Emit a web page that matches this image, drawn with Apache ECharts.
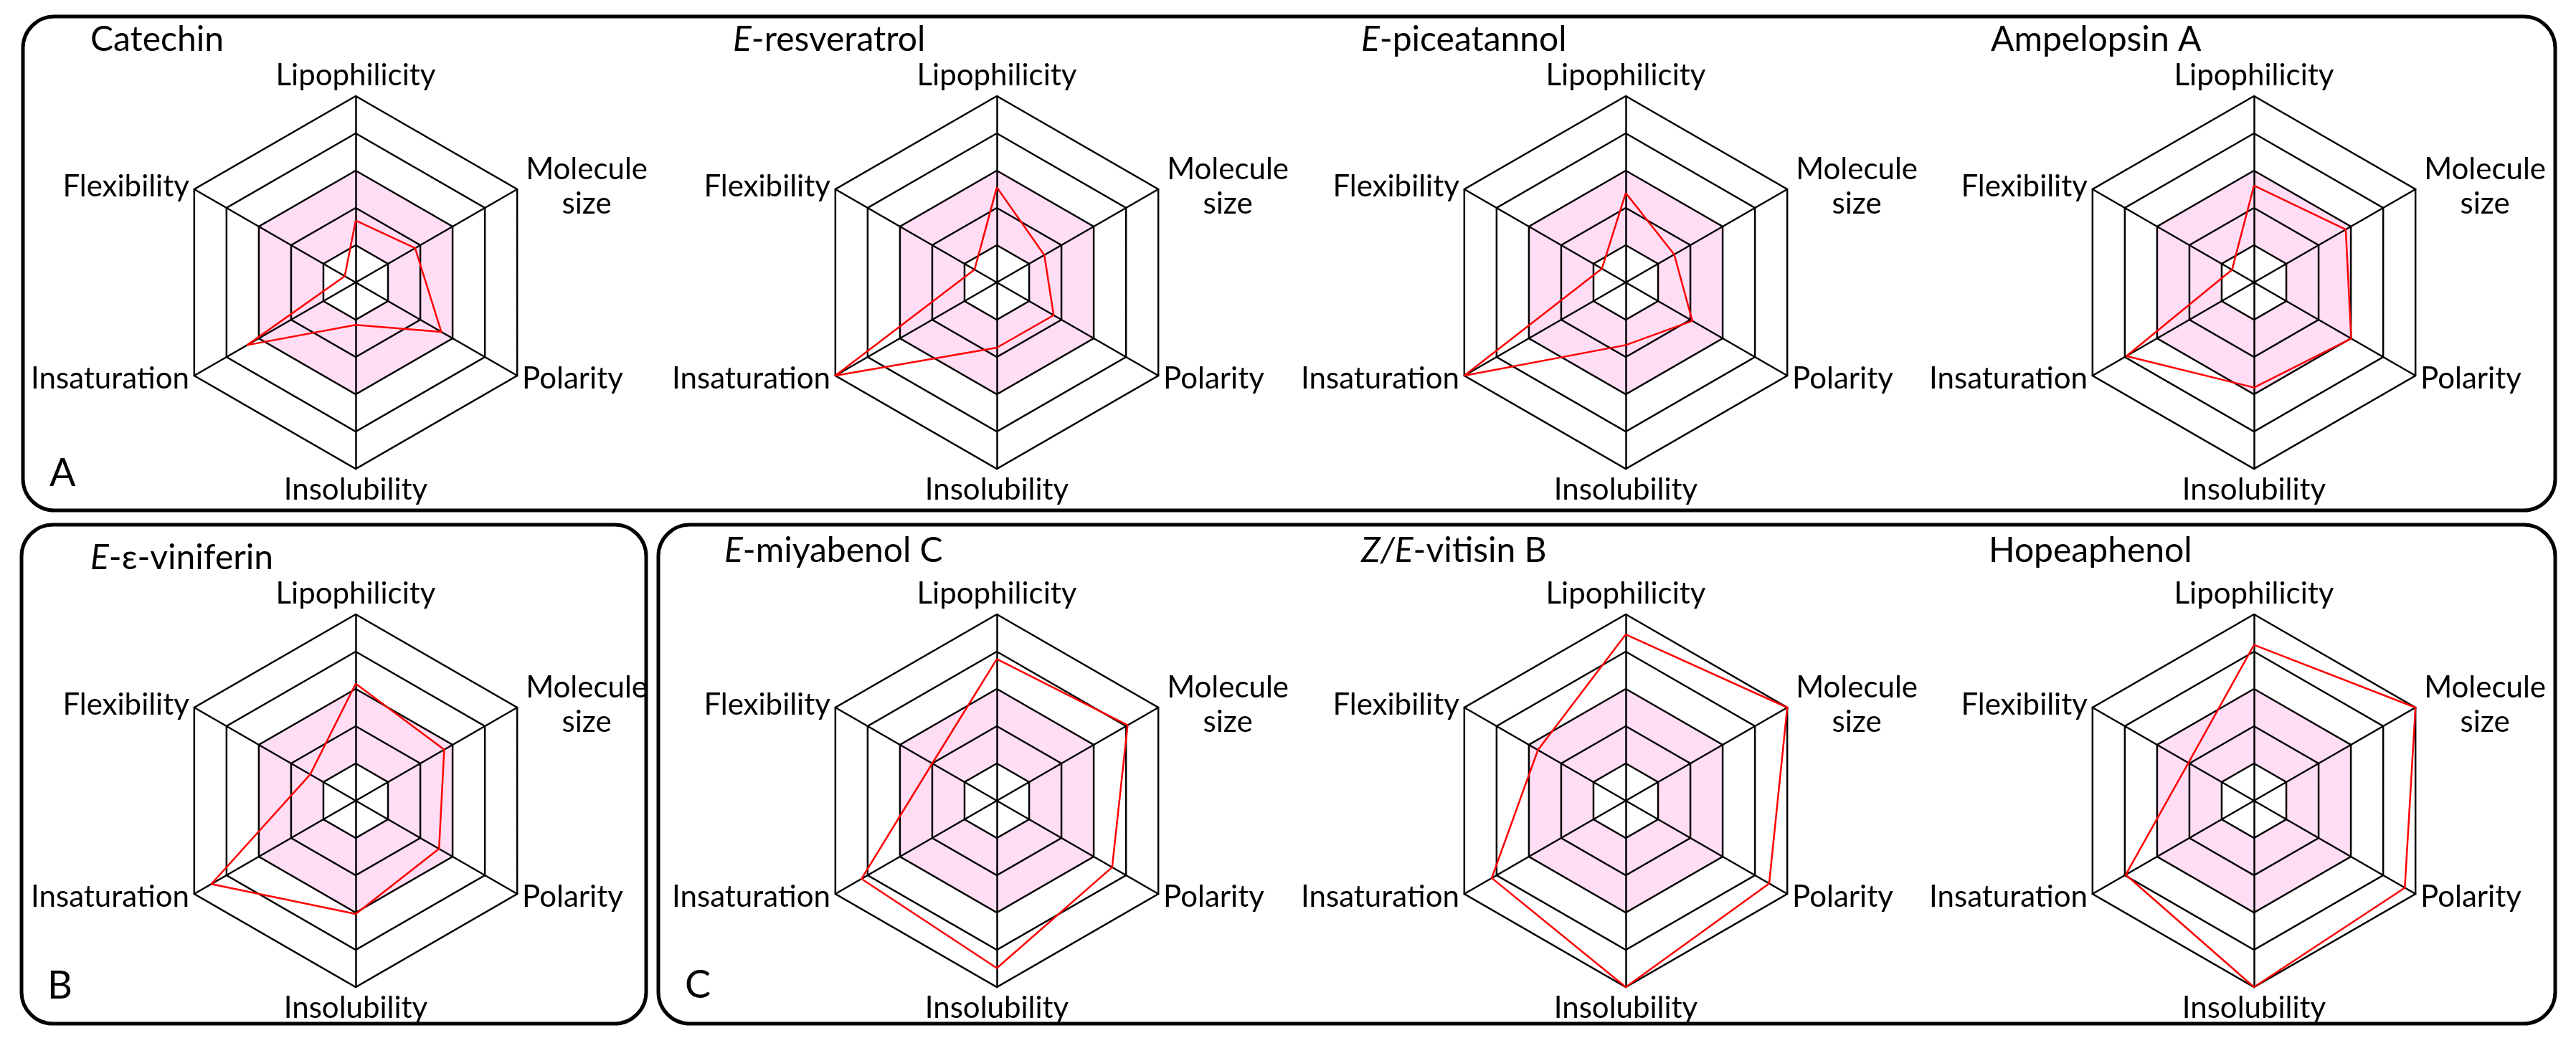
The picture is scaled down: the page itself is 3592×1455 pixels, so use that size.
<!DOCTYPE html>
<html>
<head>
<meta charset="utf-8">
<script src="https://cdn.jsdelivr.net/npm/echarts@6/dist/echarts.min.js"></script>
<style>
  html, body { margin: 0; padding: 0; background: #fff; }
  #main { width: 3592px; height: 1455px; }
</style>
</head>
<body>
<div id="main"></div>
<script>
// axes in the order echarts walks round the radar (top, then anticlockwise)
var axes = ['Lipophilicity', 'Flexibility', 'Insaturation', 'Insolubility', 'Polarity', 'Molecule size'];
var axisMax = 5;

// compound names (rich text: {i|..} is italic)
var compounds = ['Catechin', '{i|E}-resveratrol', '{i|E}-piceatannol', 'Ampelopsin A',
    '{i|E}-ε-viniferin', '{i|E}-miyabenol C', '{i|Z/E}-vitisin B', 'Hopeaphenol'];

// values, same order as axes
var catechin    = [1.66, 0.34, 3.36, 1.14, 2.65, 1.84];
var resveratrol = [2.55, 0.69, 5.00, 1.75, 1.76, 1.47];
var piceatannol = [2.40, 0.74, 5.00, 1.68, 2.06, 1.50];
var ampelopsinA = [2.60, 0.68, 3.95, 2.82, 3.01, 2.84];
var viniferin   = [3.14, 1.41, 4.47, 3.04, 2.58, 2.74];
var miyabenolC  = [3.80, 2.00, 4.19, 4.49, 3.57, 4.05];
var vitisinB    = [4.46, 2.72, 4.15, 5.00, 4.44, 5.00];
var hopeaphenol = [4.18, 2.03, 3.97, 5.00, 4.67, 5.00];
var values = [catechin, resveratrol, piceatannol, ampelopsinA, viniferin, miyabenolC, vitisinB, hopeaphenol];

// layout
var centers = [[496, 394], [1390, 394], [2267, 394], [3143, 394],
               [496, 1117], [1390, 1117], [2267, 1117], [3143, 1117]];
var radius = 260;
var titlePos = [[126, 32], [1022, 32], [1898, 32], [2776, 32],
                [126, 755], [1010, 745], [1898, 745], [2773, 745]];
var FONT = 'Lato, "Open Sans", sans-serif';
var pink = '#ffddf4';

var chart = echarts.init(document.getElementById('main'));

var radars = [];
var series = [];
var titles = [];

for (var i = 0; i < compounds.length; i++) {
    radars.push({
        center: centers[i],
        radius: radius,
        startAngle: 90,
        shape: 'polygon',
        splitNumber: 5,
        indicator: axes.map(function (a) { return { name: a, min: 0, max: axisMax }; }),
        axisName: {
            color: '#000',
            fontFamily: FONT,
            fontSize: 42,
            formatter: function (name) {
                if (name === 'Molecule size') return '{c|Molecule}\n{c|size}';
                return name;
            },
            rich: {
                c: { width: 180, align: 'center', fontFamily: FONT, fontSize: 42, color: '#000', lineHeight: 48 }
            }
        },
        nameGap: 8,
        axisLine: { lineStyle: { color: '#000', width: 2.5 } },
        splitLine: { lineStyle: { color: '#000', width: 2.5 } },
        splitArea: { show: true, areaStyle: { color: ['#fff', pink, pink, '#fff', '#fff'] } },
        axisTick: { show: false },
        axisLabel: { show: false }
    });
    series.push({
        type: 'radar',
        radarIndex: i,
        symbol: 'none',
        silent: true,
        lineStyle: { color: '#ff0000', width: 2.5 },
        data: [{ value: values[i], name: compounds[i] }]
    });
    titles.push({
        text: compounds[i],
        left: titlePos[i][0],
        top: titlePos[i][1],
        padding: 0,
        textStyle: {
            fontFamily: FONT, fontSize: 48, fontWeight: 'normal', color: '#000',
            rich: { i: { fontFamily: FONT, fontSize: 48, fontStyle: 'italic', color: '#000' } }
        }
    });
}

// panel letters
var letters = [['A', 69, 634], ['B', 66, 1349], ['C', 955, 1348]];
letters.forEach(function (l) {
    titles.push({
        text: l[0], left: l[1], top: l[2], padding: 0,
        textStyle: { fontFamily: FONT, fontSize: 54, fontWeight: 'normal', color: '#000' }
    });
});

// panel frames
var panels = [[32, 23, 3531, 689], [30, 732, 871, 696], [918, 732, 2645, 696]];

var option = {
    backgroundColor: '#fff',
    animation: false,
    title: titles,
    radar: radars,
    series: series,
    graphic: panels.map(function (p) {
        return {
            type: 'rect',
            shape: { x: p[0], y: p[1], width: p[2], height: p[3], r: 44 },
            style: { fill: 'none', stroke: '#000', lineWidth: 5 },
            silent: true
        };
    })
};

chart.setOption(option);
</script>
</body>
</html>
